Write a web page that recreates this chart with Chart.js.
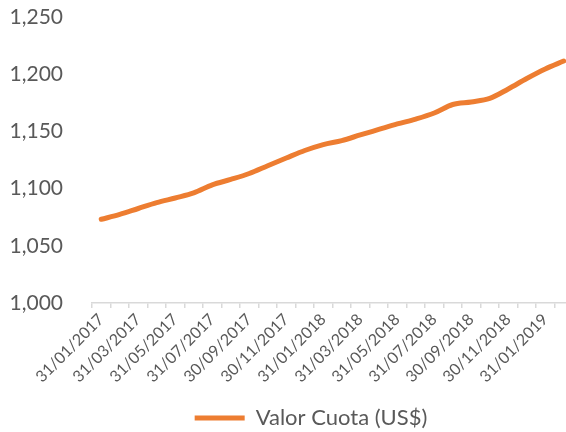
<!DOCTYPE html>
<html lang="es">
<head>
    <meta charset="utf-8" />
    <title>Valor Cuota (US$)</title>
    <script src="https://cdn.jsdelivr.net/npm/chart.js@4/dist/chart.umd.min.js"></script>
    <style>
        html, body { margin: 0; padding: 0; background: #fff; overflow: hidden; }
        #wrap { width: 622px; height: 439px; }
    </style>
</head>
<body>
<div id="wrap"><canvas id="chartCanvas"></canvas></div>
<script>
    // month-end dates (labels shown every second month)
    const fechas = [
        '31/01/2017', '28/02/2017', '31/03/2017', '30/04/2017', '31/05/2017', '30/06/2017',
        '31/07/2017', '31/08/2017', '30/09/2017', '31/10/2017', '30/11/2017', '31/12/2017',
        '31/01/2018', '28/02/2018', '31/03/2018', '30/04/2018', '31/05/2018', '30/06/2018',
        '31/07/2018', '31/08/2018', '30/09/2018', '31/10/2018', '30/11/2018', '31/12/2018',
        '31/01/2019', '28/02/2019'
    ];
    const valorCuota = [
        1073.2, 1077.4, 1082.6, 1087.7, 1091.8, 1096.2,
        1103.3, 1108.0, 1113.2, 1120.0, 1126.7, 1133.3,
        1138.5, 1142.0, 1146.9, 1151.7, 1156.5, 1160.8,
        1166.1, 1173.5, 1175.7, 1178.8, 1187.1, 1196.2,
        1204.5, 1211.5
    ];
    const yMin = 1000;
    const yMax = 1250;
    const yStep = 50;

    const gris = '#595959';
    const naranja = '#ED7D31';

    const chartConfig = {
        type: 'line',
        data: {
            labels: fechas,
            datasets: [{
                label: 'Valor Cuota (US$)',
                data: valorCuota,
                borderColor: naranja,
                backgroundColor: naranja,
                borderWidth: 5,
                borderCapStyle: 'round',
                pointRadius: 0,
                tension: 0.4,
                cubicInterpolationMode: 'monotone'
            }]
        },
        options: {
            responsive: true,
            maintainAspectRatio: false,
            animation: false,
            layout: { padding: { left: 0, right: 0, top: 17, bottom: 0 } },
            plugins: {
                tooltip: { enabled: false },
                legend: {
                    position: 'bottom',
                    labels: {
                        usePointStyle: true,
                        pointStyle: 'line',
                        pointStyleWidth: 50,
                        color: gris,
                        padding: 0,
                        font: { family: 'Lato', size: 22 }
                    }
                }
            },
            scales: {
                x: {
                    offset: true,
                    grid: {
                        offset: true,
                        drawOnChartArea: false,
                        color: '#d9d9d9',
                        tickLength: 5,
                        lineWidth: 1.5
                    },
                    border: { color: '#d9d9d9', width: 1.5 },
                    ticks: {
                        autoSkip: false,
                        maxRotation: 45,
                        minRotation: 45,
                        color: gris,
                        padding: 2,
                        font: { family: 'Lato', size: 16 },
                        callback: function (val, idx) {
                            return idx % 2 === 0 ? this.getLabelForValue(val) : '';
                        }
                    },
                    afterFit: function (scale) {
                        scale.height = 104;
                        scale.paddingTop = 0;
                        scale.paddingBottom = 0;
                    }
                },
                y: {
                    min: yMin,
                    max: yMax,
                    grid: { display: false, drawTicks: false },
                    border: { display: false },
                    ticks: {
                        stepSize: yStep,
                        color: gris,
                        padding: 29,
                        font: { family: 'Lato', size: 21 },
                        callback: (v) => v.toLocaleString('en-US')
                    },
                    afterFit: function (scale) {
                        scale.width = 92;
                        scale.paddingTop = 0;
                        scale.paddingBottom = 0;
                    }
                },
                // empty space on the right of the plot (chart is cut off there)
                yR: {
                    type: 'linear',
                    position: 'right',
                    grid: { display: false, drawTicks: false },
                    border: { display: false },
                    ticks: { display: false },
                    afterFit: function (scale) {
                        scale.width = 49;
                        scale.paddingTop = 0;
                        scale.paddingBottom = 0;
                    }
                }
            }
        }
    };

    new Chart(document.getElementById('chartCanvas').getContext('2d'), chartConfig);
</script>
</body>
</html>
